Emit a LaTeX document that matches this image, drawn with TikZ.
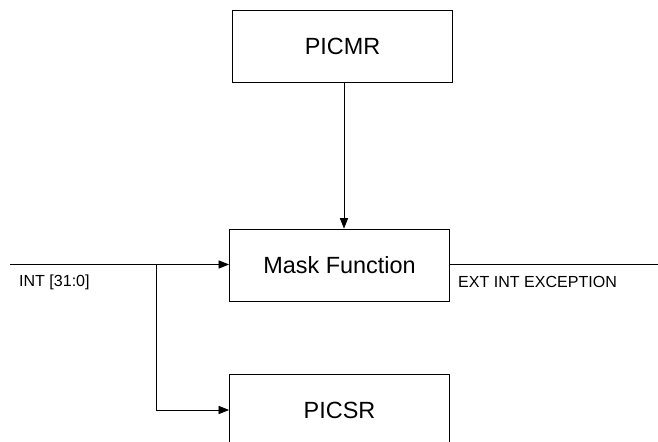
\documentclass[tikz,border=0pt]{standalone}
\usepackage{fontspec}
\setmainfont{Liberation Sans}
\usepackage{tikz}
\usetikzlibrary{positioning, shapes, arrows.meta}

\begin{document}
\begin{tikzpicture}[x=0.03cm, y=-0.03cm,
        regbox/.style={draw, line width=0.7pt, minimum width=6.6cm, minimum height=2.16cm, font=\fontsize{20}{24}\selectfont},
        sig/.style={line width=0.7pt},
        tip/.style={-{Triangle[length=9pt, width=7pt]}},
        siglabel/.style={anchor=west, font=\fontsize{13.7}{16}\selectfont}]
        \useasboundingbox (0,0) rectangle (658,442);

        \node[regbox] (picmr) at (342.5,46.5) {PICMR};
        \node[regbox] (mask) at (339.5,265) {Mask Function};
        \node[regbox] (picsr) at (339.5,410) {PICSR};

        \coordinate (intin) at (10,264.5);
        \coordinate (branch) at (156,264.5);
        \coordinate (extout) at (660,264.5);

        \draw[sig, tip] (picmr.south -| 344,0) -- (mask.north -| 344,0);
        \draw[sig, tip] (intin) -- (intin -| mask.west);
        \draw[sig, tip] (branch) |- (picsr.west);
        \draw[sig] (mask.east |- extout) -- (extout);

        \node[siglabel] (intlabel) at (15,282) {INT [31:0]};
        \node[siglabel] (extlabel) at (454,282) {EXT INT EXCEPTION};
\end{tikzpicture}
\end{document}
